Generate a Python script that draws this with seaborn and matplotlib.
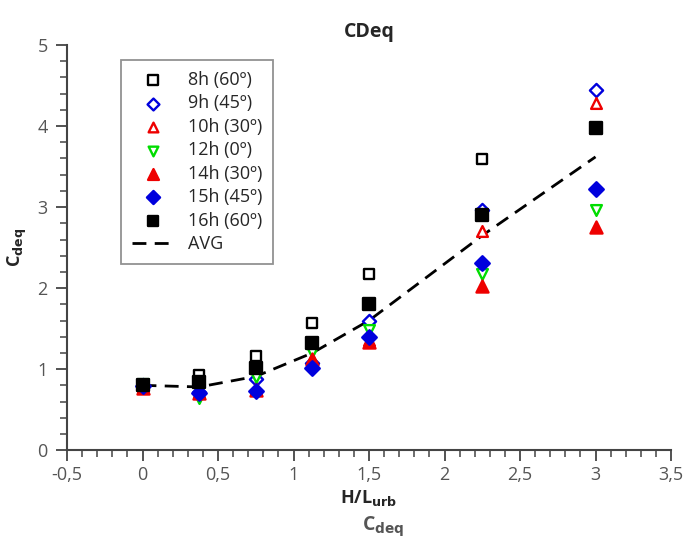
import numpy as np
import pandas as pd
import matplotlib.pyplot as plt
import seaborn as sns
from matplotlib.ticker import MultipleLocator, FuncFormatter

# data
h_l = [0, 0.375, 0.75, 1.125, 1.5, 2.25, 3]
c_8h = [0.80, 0.93, 1.16, 1.57, 2.17, 3.59, np.nan]
c_9h = [0.80, 0.72, 0.88, 1.08, 1.60, 2.96, 4.44]
c_10h = [0.78, 0.72, 0.77, 1.13, 1.36, 2.70, 4.28]
c_12h = [0.82, 0.64, 0.90, 1.21, 1.48, 2.18, 2.96]
c_14h = [0.77, 0.70, 0.74, 1.12, 1.34, 2.03, 2.75]
c_15h = [0.79, 0.70, 0.73, 1.02, 1.40, 2.31, 3.22]
c_16h = [0.80, 0.84, 1.01, 1.32, 1.81, 2.90, 3.98]
c_avg = [0.80, 0.78, 0.91, 1.20, 1.60, 2.65, 3.62]

labels = ["8h (60º)", "9h (45º)", "10h (30º)", "12h (0º)",
          "14h (30º)", "15h (45º)", "16h (60º)"]
series = [c_8h, c_9h, c_10h, c_12h, c_14h, c_15h, c_16h]
colors = ["black", "#0000dd", "#ee0000", "#00dd00", "#ee0000", "#0000dd", "black"]
markers = ["s", "D", "^", "v", "^", "D", "s"]
filled = [False, False, False, False, True, True, True]
sizes = [60, 45, 60, 60, 75, 55, 65]

sns.set_style("ticks")
plt.rcParams["font.family"] = ["Open Sans", "DejaVu Sans"]

fig = plt.figure(figsize=(6.93, 5.43), dpi=100)
ax = fig.add_axes([0.0967, 0.171, 0.8716, 0.746])

for lab, vals, col, mk, fl, sz in zip(labels, series, colors, markers, filled, sizes):
    df = pd.DataFrame({"x": h_l, "y": vals}).dropna()
    sns.scatterplot(
        data=df, x="x", y="y", ax=ax, label=lab,
        marker=mk, s=sz,
        facecolor=col if fl else "white",
        edgecolor=col, linewidth=1.7, zorder=3
    )

avg_df = pd.DataFrame({"x": h_l, "y": c_avg})
sns.lineplot(data=avg_df, x="x", y="y", ax=ax, label="AVG",
             color="black", linestyle=(0, (5, 3)), linewidth=2, zorder=2)

ax.set_xlim(-0.5, 3.5)
ax.set_ylim(0, 5)
ax.xaxis.set_major_locator(MultipleLocator(0.5))
ax.xaxis.set_minor_locator(MultipleLocator(0.1))
ax.yaxis.set_major_locator(MultipleLocator(1))
ax.yaxis.set_minor_locator(MultipleLocator(0.2))
fmt = FuncFormatter(lambda v, p: ("%g" % v).replace(".", ","))
ax.xaxis.set_major_formatter(fmt)
ax.yaxis.set_major_formatter(fmt)

for s in ["top", "right"]:
    ax.spines[s].set_visible(False)
for s in ["left", "bottom"]:
    ax.spines[s].set_color("#444444")
    ax.spines[s].set_linewidth(1.5)
ax.tick_params(which="major", length=8, width=1.3, color="#444444",
               labelsize=13, labelcolor="#555555", direction="out")
ax.tick_params(which="minor", length=5, width=1.1, color="#444444", direction="out")
ax.tick_params(axis="y", which="both", pad=6)

ax.set_title("CDeq", fontsize=14, fontweight="bold", pad=6)
ax.set_xlabel("H/L$_{\\mathbf{urb}}$", fontsize=13, fontweight="bold", labelpad=3)
ax.set_ylabel("C$_{\\mathbf{deq}}$", fontsize=13, fontweight="bold", labelpad=6)
fig.text(0.553, 0.022, "C$_{\\mathbf{deq}}$", fontsize=14, fontweight="bold",
         color="#555555", ha="center")

leg = ax.legend(loc="upper left", bbox_to_anchor=(0.075, 0.985), fontsize=13,
                frameon=True, fancybox=False, edgecolor="#777777",
                handlelength=2.3, borderpad=0.6, labelspacing=0.3,
                markerscale=0.9)
leg.get_frame().set_linewidth(1.3)

plt.savefig("out.png", dpi=100)
